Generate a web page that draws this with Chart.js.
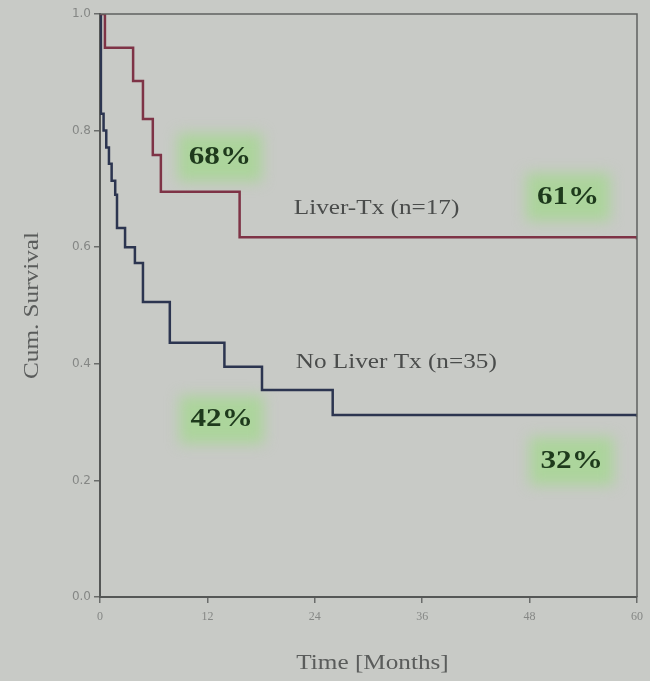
<!DOCTYPE html>
<html>
<head>
<meta charset="utf-8">
<script src="https://cdn.jsdelivr.net/npm/chart.js@4/dist/chart.umd.min.js"></script>
<style>
  html, body { margin: 0; padding: 0; background: #c8cac6; }
  #wrap { width: 650px; height: 681px; }
</style>
</head>
<body>
<div id="wrap"><canvas id="myChart" width="650" height="681"></canvas></div>
<script>
// Kaplan-Meier curves
const liverTxMonths = [0, 0.55, 3.7, 4.8, 5.9, 6.8, 15.6, 60]
const liverTxSurvival = [1.0, 0.942, 0.885, 0.82, 0.758, 0.695, 0.617, 0.613]

const noLiverTxMonths = [0, 0.1, 0.4, 0.7, 1.0, 1.3, 1.7, 1.9, 2.8, 3.9, 4.8, 7.8, 13.9, 18.1, 26.0, 60]
const noLiverTxSurvival = [1.0, 0.829, 0.800, 0.771, 0.743, 0.714, 0.690, 0.633, 0.600, 0.573, 0.506, 0.436, 0.395, 0.355, 0.312, 0.309]

const xTicks = [0, 12, 24, 36, 48, 60]
const xTitle = 'Time [Months]'
const yTitle = 'Cum. Survival'

// percentages highlighted on the slide
const noteTexts = ['68%', '61%', '42%', '32%']
const noteMonths = [13.4, 52.3, 13.6, 52.7]
const noteSurvival = [0.754, 0.686, 0.304, 0.233]

const groupLabels = ['Liver-Tx (n=17)', 'No Liver Tx (n=35)']
const groupLabelMonths = [30.9, 33.1]
const groupLabelSurvival = [0.667, 0.403]

const toPoints = (xs, ys) => xs.map((x, i) => ({x, y: ys[i]}))

const canvas = document.getElementById('myChart')

// the slide font looks a bit wider than Times, so stretch it a little
function wideText(ctx, text, x, y, rot) {
    ctx.save()
    ctx.translate(x, y)
    if (rot) ctx.rotate(rot)
    ctx.scale(1.2, 1)
    ctx.fillText(text, 0, 0)
    ctx.restore()
}

// box round the plot, axis titles and the text notes
const slideExtras = {
    id: 'slideExtras',
    beforeDatasetsDraw(chart) {
        const {ctx, scales: {x, y}} = chart
        ctx.save()
        ctx.filter = 'blur(7px)'
        ctx.fillStyle = 'rgba(165, 215, 145, 0.8)'
        noteTexts.forEach((t, i) => {
            const cx = x.getPixelForValue(noteMonths[i])
            const cy = y.getPixelForValue(noteSurvival[i])
            ctx.fillRect(cx - 42, cy - 24, 84, 48)
        })
        ctx.restore()
    },
    afterDatasetsDraw(chart) {
        const {ctx, chartArea: a, scales: {x, y}} = chart
        ctx.save()
        ctx.strokeStyle = '#5f6160'
        ctx.lineWidth = 1.5
        ctx.beginPath()
        ctx.moveTo(a.left, a.top)
        ctx.lineTo(a.right, a.top)
        ctx.lineTo(a.right, a.bottom)
        ctx.stroke()

        ctx.textAlign = 'center'
        ctx.textBaseline = 'middle'
        ctx.fillStyle = '#1e3a1c'
        ctx.font = 'bold 26px "Liberation Serif", serif'
        noteTexts.forEach((t, i) => {
            wideText(ctx, t, x.getPixelForValue(noteMonths[i]), y.getPixelForValue(noteSurvival[i]))
        })
        ctx.fillStyle = '#4a4c4b'
        ctx.font = '21px "Liberation Serif", serif'
        groupLabels.forEach((t, i) => {
            wideText(ctx, t, x.getPixelForValue(groupLabelMonths[i]), y.getPixelForValue(groupLabelSurvival[i]))
        })

        ctx.fillStyle = '#5a5c5b'
        ctx.font = '21px "Liberation Serif", serif'
        wideText(ctx, xTitle, (a.left + a.right) / 2 + 4, 663)
        wideText(ctx, yTitle, 32, (a.top + a.bottom) / 2, -Math.PI / 2)
        ctx.restore()
    }
}

const config = {
    type: 'line',
    data: {
        datasets: [{
            label: groupLabels[0],
            data: toPoints(liverTxMonths, liverTxSurvival),
            borderColor: '#7e3346',
            borderWidth: 2.5,
            stepped: true,
            pointRadius: 0,
            fill: false
        }, {
            label: groupLabels[1],
            data: toPoints(noLiverTxMonths, noLiverTxSurvival),
            borderColor: '#2c3550',
            borderWidth: 2.5,
            stepped: true,
            pointRadius: 0,
            fill: false
        }]
    },
    options: {
        responsive: false,
        animation: false,
        layout: {
            padding: {top: 14, right: 13, left: 0, bottom: 0}
        },
        plugins: {
            legend: {display: false},
            tooltip: {enabled: false}
        },
        scales: {
            x: {
                type: 'linear',
                min: 0,
                max: 60,
                afterBuildTicks(scale) {
                    scale.ticks = xTicks.map(v => ({value: v}))
                },
                grid: {drawOnChartArea: false, drawTicks: true, tickLength: 6, color: '#6a6c6b', lineWidth: 1.5},
                border: {color: '#555756', width: 2},
                ticks: {color: '#858785', font: {size: 12, family: '"Liberation Serif", serif'}, padding: 7, maxRotation: 0},
                afterFit(scale) { scale.height = 84 }
            },
            y: {
                min: 0,
                max: 1,
                ticks: {stepSize: 0.2, color: '#858785', font: {size: 12, family: '"DejaVu Sans", sans-serif'}, padding: 3,
                    callback: v => Number(v).toFixed(1)},
                grid: {drawOnChartArea: false, drawTicks: true, tickLength: 6, color: '#6a6c6b', lineWidth: 1.5},
                border: {color: '#555756', width: 2},
                afterFit(scale) { scale.width = 100 }
            }
        }
    },
    plugins: [slideExtras]
}

const myChart = new Chart(canvas, config)
</script>
</body>
</html>
